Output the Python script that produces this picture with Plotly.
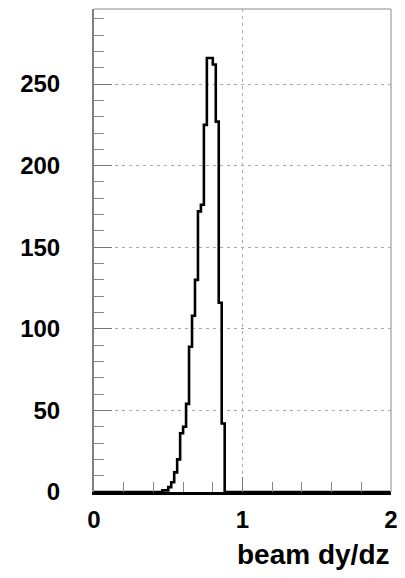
import numpy as np
import plotly.graph_objects as go

# Histogram: 100 bins from 0 to 2 (bin width 0.02)
x_min, x_max, n_bins = 0.0, 2.0, 100
# counts for bins starting at 0.44 ... 0.86; all other bins are 0
first_bin_low = 0.44
counts_nonzero = [0, 1, 1, 3, 6, 12, 20, 36, 40, 54, 89, 108, 130, 172, 176, 225,
                  266, 266, 262, 227, 116, 42]

y_tick_vals = [0, 50, 100, 150, 200, 250]
x_tick_vals = [0, 1, 2]
x_label = "beam dy/dz"

edges = np.linspace(x_min, x_max, n_bins + 1)
counts = np.zeros(n_bins)
start = int(round((first_bin_low - x_min) / ((x_max - x_min) / n_bins)))
counts[start:start + len(counts_nonzero)] = counts_nonzero

xs = list(edges)
ys = list(counts) + [counts[-1]]

fig = go.Figure()
fig.add_trace(go.Scatter(
    x=xs, y=ys, mode="lines", line=dict(color="black", width=2.6, shape="hv"),
    hoverinfo="skip", showlegend=False,
))

grid_col = "#a8a8a8"
fig.update_layout(
    width=397, height=570,
    margin=dict(l=86, r=14, t=1, b=86),
    paper_bgcolor="white", plot_bgcolor="white",
    showlegend=False,
    xaxis=dict(
        range=[x_min, x_max], tickvals=x_tick_vals, ticktext=[str(v) for v in x_tick_vals],
        ticks="inside", ticklen=15, tickwidth=1, tickcolor="#777",
        minor=dict(dtick=0.2, ticks="inside", ticklen=10, tickwidth=1, tickcolor="#888", showgrid=False),
        showline=True, linecolor="black", linewidth=2.5,
        showgrid=True, gridcolor=grid_col, griddash="3px,4px", gridwidth=1,
        zeroline=False,
        tickfont=dict(family="Liberation Sans", size=24, color="black", weight="bold"),
        ticklabelstandoff=4,
    ),
    yaxis=dict(
        range=[0, 296], tickvals=y_tick_vals, ticktext=[str(v) for v in y_tick_vals],
        ticks="inside", ticklen=18, tickwidth=1, tickcolor="#777",
        minor=dict(dtick=10, ticks="inside", ticklen=10, tickwidth=1, tickcolor="#888", showgrid=False),
        showline=True, linecolor="#808080", linewidth=2,
        showgrid=True, gridcolor=grid_col, griddash="3px,4px", gridwidth=1,
        zeroline=False,
        tickfont=dict(family="Liberation Sans", size=24, color="black", weight="bold"),
        ticklabelstandoff=27,
    ),
    shapes=[
        dict(type="line", xref="paper", yref="paper", x0=0, x1=1, y0=1, y1=1,
             line=dict(color="#b0b0b0", width=1.5)),
        dict(type="line", xref="paper", yref="paper", x0=1, x1=1, y0=0, y1=1,
             line=dict(color="#b0b0b0", width=1.5)),
    ],
    annotations=[dict(
        text=x_label, xref="paper", yref="paper", x=1, y=0,
        xanchor="right", yanchor="top", yshift=-45, showarrow=False,
        font=dict(family="Liberation Sans", size=28, color="black", weight="bold"),
    )],
)

fig.write_html("out.html")
